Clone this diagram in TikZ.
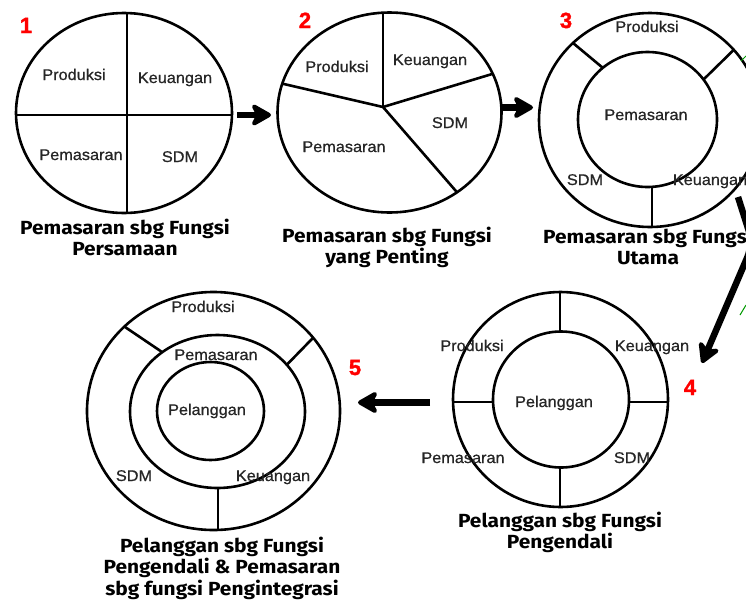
\documentclass[tikz,border=0pt]{standalone}
\usepackage{fontspec}
\setmainfont{Liberation Sans}
\newfontfamily\titlefont{Fira Sans}[FakeStretch=1.1]
\newfontfamily\lblfont{Liberation Sans}[FakeBold=0.7,FakeStretch=1.05]
\newfontfamily\numfont{Liberation Sans}[FakeBold=1.5]
\usetikzlibrary{arrows.meta}
\begin{document}
\begin{tikzpicture}[x=1pt,y=-1pt,
  ring/.style={line width=2.6pt},
  lbl/.style={font=\lblfont\fontsize{15.5}{18}\selectfont, text=black!85, inner sep=0pt, anchor=base},
  ttl/.style={font=\titlefont\bfseries\fontsize{19}{22}\selectfont, inner sep=0pt, anchor=base},
  num/.style={font=\numfont\bfseries\fontsize{22}{24}\selectfont, text=red, inner sep=0pt, anchor=base},
  bigarrow/.style={line width=6.5pt, -{Stealth[length=24pt,width=27pt,inset=7pt,round]}}]
\useasboundingbox (0,0) rectangle (746,603);
\clip (0,0) rectangle (746,603);

% ---------- Diagram 1 ----------
\begin{scope}
  \clip (124,113) ellipse [x radius=108, y radius=100];
  \draw[ring] (127,0) -- (127,230);
  \draw[ring] (0,115) -- (240,115);
\end{scope}
\draw[ring] (124,113) ellipse [x radius=108, y radius=100];
\node[lbl] (d1p) at (74,80) {Produksi};
\node[lbl] (d1k) at (175,83) {Keuangan};
\node[lbl] (d1m) at (81,160) {Pemasaran};
\node[lbl] (d1s) at (180,162) {SDM};
\node[num] (n1) at (26,33) {1};
\node[ttl] (t1a) at (125,234) {Pemasaran sbg Fungsi};
\node[ttl] (t1b) at (125,255) {Persamaan};

% ---------- Diagram 2 ----------
\begin{scope}
  \clip (389.5,112.5) ellipse [x radius=112, y radius=100];
  \draw[ring] (383,107) -- (383,0);
  \draw[ring] (383,107) -- (258,78);
  \draw[ring] (383,107) -- (512,68);
  \draw[ring] (383,107) -- (488,228);
\end{scope}
\draw[ring] (389.5,112.5) ellipse [x radius=112, y radius=100];
\node[lbl] (d2p) at (337,72) {Produksi};
\node[lbl] (d2k) at (430,65) {Keuangan};
\node[lbl] (d2s) at (450,128) {SDM};
\node[lbl] (d2m) at (344,152) {Pemasaran};
\node[num] (n2) at (305,28) {2};
\node[ttl] (t2a) at (387,242) {Pemasaran sbg Fungsi};
\node[ttl] (t2b) at (387,263) {yang Penting};

% ---------- Diagram 3 ----------
\draw[ring] (650,120) ellipse [x radius=111, y radius=107];
\draw[ring] (647.5,119.5) ellipse [x radius=69.5, y radius=67.5];
\draw[ring] (573,43) -- (603,68);
\draw[ring] (733.8,49.8) -- (703,80);
\draw[ring] (652,187) -- (652,227);
\node[lbl] (d3p) at (647,32) {Produksi};
\node[lbl] (d3m) at (646,120) {Pemasaran};
\node[lbl] (d3s) at (585,185) {SDM};
\node[lbl] (d3k) at (710,185) {Keuangan};
\node[num] (n3) at (566,28) {3};
\node[ttl] (t3a) at (648,243) {Pemasaran sbg Fungsi};
\node[ttl] (t3b) at (648,264) {Utama};

% ---------- Diagram 4 ----------
\draw[ring] (560.5,399.5) circle [radius=107.5];
\draw[ring] (561,399.5) circle [radius=68];
\draw[ring] (560,292) -- (560,331.5);
\draw[ring] (560,467.5) -- (560,507);
\draw[ring] (453,402) -- (493.5,402);
\draw[ring] (628.5,402) -- (668,402);
\node[lbl] (d4p) at (472,351) {Produksi};
\node[lbl] (d4k) at (652,351) {Keuangan};
\node[lbl] (d4c) at (554,407) {Pelanggan};
\node[lbl] (d4m) at (463,463) {Pemasaran};
\node[lbl] (d4s) at (632,463) {SDM};
\node[num] (n4) at (690,395) {4};
\node[ttl] (t4a) at (560,527) {Pelanggan sbg Fungsi};
\node[ttl] (t4b) at (560,548) {Pengendali};

% ---------- Diagram 5 ----------
\draw[ring] (213.5,411) ellipse [x radius=126.5, y radius=119];
\draw[ring] (217.5,411.5) ellipse [x radius=87.5, y radius=76.5];
\draw[ring] (210.5,411) ellipse [x radius=53.5, y radius=49];
\draw[ring] (125,327) -- (162,352);
\draw[ring] (313.2,337.7) -- (286.8,364.8);
\draw[ring] (218,488) -- (218,530);
\node[lbl] (d5p) at (203,312) {Produksi};
\node[lbl] (d5m) at (216,360) {Pemasaran};
\node[lbl] (d5c) at (207,415) {Pelanggan};
\node[lbl] (d5s) at (134,481) {SDM};
\node[lbl] (d5k) at (273,481) {Keuangan};
\node[num] (n5) at (355,375) {5};
\node[ttl] (t5a) at (222,552) {Pelanggan sbg Fungsi};
\node[ttl] (t5b) at (222,573) {Pengendali \& Pemasaran};
\node[ttl] (t5c) at (222,595) {sbg fungsi Pengintegrasi};

% ---------- Arrows ----------
\coordinate (a12s) at (237,115);
\coordinate (a12e) at (271,115);
\coordinate (a23s) at (502,107.5);
\coordinate (a23e) at (533,107.5);
\coordinate (a34s) at (738,197);
\coordinate (a34m) at (753,244);
\coordinate (a34e) at (702,363);
\coordinate (a45s) at (430,402.5);
\coordinate (a45e) at (358,402.5);
\draw[bigarrow] (a12s) -- (a12e);
\draw[bigarrow] (a23s) -- (a23e);
\draw[bigarrow, rounded corners=14pt] (a34s) -- (a34m) -- (a34e);
\draw[bigarrow] (a45s) -- (a45e);

% small green fragments at the right edge
\draw[green!60!black, line width=1pt] (741,61) -- (746,56);
\draw[green!60!black, line width=1pt] (740,315) -- (746,305);
\end{tikzpicture}
\end{document}
